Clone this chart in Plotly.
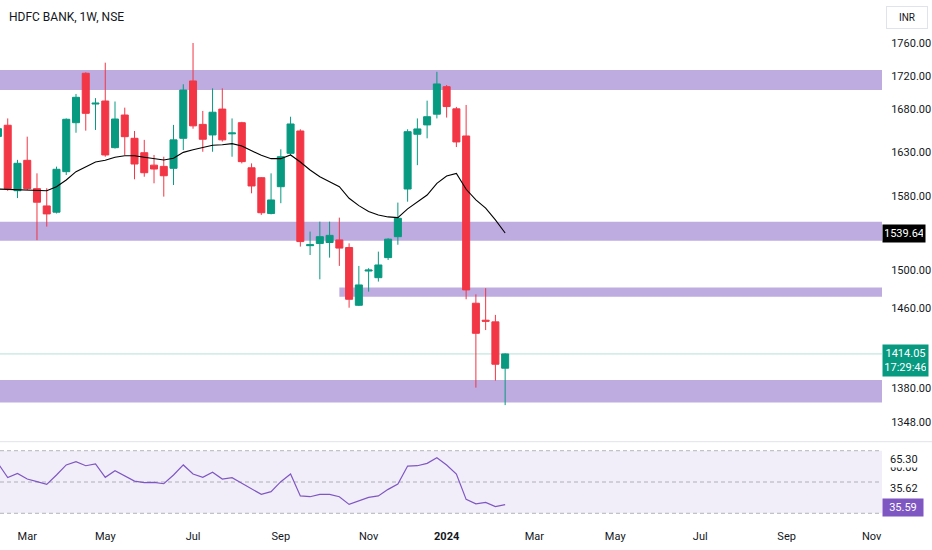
import math
import plotly.graph_objects as go

# weekly candles, HDFC BANK (NSE), Feb 2023 - Feb 2024 (first bar only partly visible)
dates = [
    "2023-02-13", "2023-02-20", "2023-02-27", "2023-03-06", "2023-03-13", "2023-03-20",
    "2023-03-27", "2023-04-03", "2023-04-10", "2023-04-17", "2023-04-24", "2023-05-01",
    "2023-05-08", "2023-05-15", "2023-05-22", "2023-05-29", "2023-06-05", "2023-06-12",
    "2023-06-19", "2023-06-26", "2023-07-03", "2023-07-10", "2023-07-17", "2023-07-24",
    "2023-07-31", "2023-08-07", "2023-08-14", "2023-08-21", "2023-08-28", "2023-09-04",
    "2023-09-11", "2023-09-18", "2023-09-25", "2023-10-02", "2023-10-09", "2023-10-16",
    "2023-10-23", "2023-10-30", "2023-11-06", "2023-11-13", "2023-11-20", "2023-11-27",
    "2023-12-04", "2023-12-11", "2023-12-18", "2023-12-25", "2024-01-01", "2024-01-08",
    "2024-01-15", "2024-01-22", "2024-01-29", "2024-02-05", "2024-02-12",
]

opens = [1648, 1661, 1586.2, 1620.5, 1588.5, 1569.3, 1562.4, 1607.6, 1664, 1722.9, 1686,
         1689.6, 1635, 1673, 1645.8, 1629.2, 1615, 1613.6, 1611.4, 1645.8, 1713.6, 1662,
         1649.7, 1680, 1651, 1664, 1612, 1600.8, 1561, 1590.7, 1628.5, 1654.3, 1526,
         1528.4, 1529.4, 1532.2, 1524, 1463.3, 1499, 1492, 1513.2, 1535.7, 1588.1, 1650.5,
         1661.4, 1674, 1706.7, 1680.3, 1648.5, 1465.4, 1448, 1446.3, 1399.9]
highs = [1664, 1669, 1621, 1647.7, 1605.7, 1589, 1613.3, 1669, 1698, 1724, 1693,
         1735.8, 1689, 1681.7, 1654.3, 1644, 1626.6, 1624.6, 1661.4, 1709.6, 1760, 1677.8,
         1704.7, 1704.7, 1669, 1665, 1617, 1601.5, 1605.7, 1633.1, 1671, 1656.3, 1541.2,
         1552, 1552, 1556.4, 1528.5, 1504.4, 1502, 1519.6, 1534, 1573, 1656.3, 1669,
         1690, 1724.6, 1708.7, 1682.6, 1684.9, 1474.6, 1481, 1453.4, 1414.7]
lows = [1640, 1586, 1578, 1587, 1532, 1546.6, 1561, 1603.8, 1652.3, 1654.7, 1655.5,
        1624.6, 1634, 1626.6, 1599, 1601.9, 1594.5, 1579.6, 1592.6, 1632.3, 1657, 1630.3,
        1630.3, 1642, 1624.6, 1617, 1583.3, 1559.4, 1560, 1572.3, 1626.6, 1525, 1516,
        1490.3, 1513.2, 1504.4, 1460.8, 1462.5, 1477.4, 1487.9, 1510.7, 1527, 1574, 1615,
        1645.8, 1669, 1670, 1635.7, 1469.5, 1380.9, 1438, 1387.7, 1364]
closes = [1657, 1588.5, 1617.1, 1588.5, 1573.4, 1560.5, 1610.3, 1668, 1694, 1675, 1687,
          1626.6, 1668.3, 1647.7, 1616.3, 1606.4, 1610.6, 1603, 1644, 1702.7, 1660.3, 1644.7,
          1676.3, 1644, 1652, 1619, 1591.5, 1561.8, 1575.9, 1624.6, 1662.5, 1530.4, 1527,
          1535.7, 1537.1, 1523.4, 1469.5, 1484.4, 1500, 1505.4, 1533, 1555.7, 1653.5, 1656.7,
          1671, 1710, 1683, 1641.6, 1479.2, 1434.7, 1447, 1403.8, 1414.05]

# moving average drawn on price pane
ma_values = [1588, 1587.8, 1587.2, 1587.2, 1587.0, 1586.2, 1590.7, 1598.2, 1607.6, 1613.3,
             1618.6, 1620.5, 1624, 1625.8, 1625.8, 1624, 1622.4, 1620.9, 1622.8, 1629.6,
             1632.6, 1635, 1637.7, 1638.4, 1639.6, 1636.9, 1631.5, 1626.2, 1622.4, 1622.4,
             1626.6, 1618.6, 1609.5, 1601.9, 1596.3, 1590.7, 1577.8, 1569.6, 1563.1, 1559.4,
             1557.2, 1556.4, 1566, 1574, 1581.4, 1594.5, 1602.7, 1605.7, 1587.8, 1575.9,
             1566.8, 1553.9, 1539.64]

# RSI pane
rsi_values = [62.0, 52.8, 55.5, 51.9, 50.2, 48.5, 54.5, 60.9, 63.0, 60.4, 61.5, 53.0, 57.2,
              54.0, 50.6, 49.6, 49.8, 48.9, 54.5, 60.9, 55.1, 53.0, 56.2, 51.9, 52.8, 49.2,
              45.5, 42.1, 43.8, 50.2, 55.1, 41.1, 40.6, 42.1, 42.1, 40.6, 35.7, 37.9, 40.2,
              41.1, 45.3, 48.7, 60.2, 60.4, 61.9, 65.5, 60.9, 55.1, 38.9, 36.0, 37.0, 34.3,
              35.59]
rsi_levels = [70, 50, 30]

# supply / demand zones: (start date, low price, high price)
zones = [
    ("2023-01-01", 1702.7, 1726.9),
    ("2023-01-01", 1531.3, 1552.0),
    ("2023-10-16", 1472.2, 1481.6),
    ("2023-01-01", 1366.6, 1388.4),
]

price_ticks = [1760, 1720, 1680, 1630, 1580, 1500, 1460, 1380, 1348]
month_ticks = ["2023-03-06", "2023-05-01", "2023-07-03", "2023-09-04", "2023-11-06",
               "2024-01-01", "2024-03-04", "2024-05-01", "2024-07-01", "2024-09-01",
               "2024-11-01"]
month_labels = ["Mar", "May", "Jul", "Sep", "Nov", "<b>2024</b>", "Mar", "May", "Jul",
                "Sep", "Nov"]

last_price = 1414.05
last_ma = 1539.64

GREEN = "#089981"
RED = "#F23645"
TEXT = "#131722"
PURPLE = "#7E57C2"

H_PLOT = 522.0  # pixel height of the plotting area
W_PLOT = 881.7


def py(pix):
    # pixel row (from top) to paper y
    return (H_PLOT - pix) / H_PLOT


fig = go.Figure()

fig.add_trace(go.Candlestick(
    x=dates, open=opens, high=highs, low=lows, close=closes,
    increasing=dict(line=dict(color=GREEN, width=1), fillcolor=GREEN),
    decreasing=dict(line=dict(color=RED, width=1), fillcolor=RED),
    whiskerwidth=0, yaxis="y", hoverinfo="skip",
))
fig.add_trace(go.Scatter(
    x=dates, y=ma_values, mode="lines", yaxis="y",
    line=dict(color="#000000", width=1.1), hoverinfo="skip",
))
fig.add_trace(go.Scatter(
    x=dates, y=rsi_values, mode="lines", yaxis="y2",
    line=dict(color=PURPLE, width=1.2), hoverinfo="skip",
))

shapes = []
for start, lo, hi in zones:
    shapes.append(dict(type="rect", xref="x", yref="y", x0=start, x1="2025-01-01",
                       y0=lo, y1=hi, fillcolor="rgba(126,87,194,0.5)",
                       line=dict(width=0), layer="below"))
shapes.append(dict(type="line", xref="paper", yref="y", x0=0, x1=1,
                   y0=last_price, y1=last_price,
                   line=dict(color="rgba(8,153,129,0.3)", width=1), layer="below"))
shapes.append(dict(type="rect", xref="paper", yref="y2", x0=0, x1=1,
                   y0=rsi_levels[2], y1=rsi_levels[0],
                   fillcolor="rgba(126,87,194,0.1)", line=dict(width=0), layer="below"))
for lvl in rsi_levels:
    shapes.append(dict(type="line", xref="paper", yref="y2", x0=0, x1=1, y0=lvl, y1=lvl,
                       line=dict(color="rgba(120,123,134,0.55)", width=1, dash="4px,3px"),
                       layer="below"))
shapes.append(dict(type="line", xref="paper", yref="paper", x0=0, x1=932 / W_PLOT,
                   y0=py(441.7), y1=py(441.7), line=dict(color="#E0E3EB", width=1)))

base_font = dict(family="Roboto, Noto Sans, sans-serif", size=11, color=TEXT)

annotations = [
    dict(text="HDFC BANK, 1W, NSE", xref="paper", yref="paper", x=7 / W_PLOT, y=py(17),
         xanchor="left", yanchor="middle", showarrow=False,
         font=dict(family="Roboto, sans-serif", size=12, color=TEXT)),
    dict(text="INR", xref="paper", yref="paper", x=907 / W_PLOT, y=py(17),
         xanchor="center", yanchor="middle", showarrow=False, font=dict(base_font, size=10),
         bordercolor="#E0E3EB", borderwidth=1, borderpad=5, bgcolor="#FFFFFF", width=30),
    dict(text=f"{last_ma:.2f}", xref="paper", yref="y", x=1, y=math.log10(last_ma),
         xanchor="left", yanchor="middle", showarrow=False, bgcolor="#000000",
         font=dict(base_font, color="#FFFFFF"), borderpad=2, width=38),
    dict(text=f"{last_price:.2f}<br>17:29:46", xref="paper", yref="y", x=1,
         y=math.log10(last_price), xanchor="left", yanchor="top", yshift=10,
         showarrow=False, bgcolor=GREEN, font=dict(base_font, color="#FFFFFF"),
         borderpad=2, width=41, align="center"),
    dict(text="60.00", xref="paper", yref="paper", x=1, y=py(467), xanchor="left",
         yanchor="middle", xshift=6, showarrow=False, font=base_font),
    dict(text="65.30", xref="paper", yref="paper", x=1, y=py(459), xanchor="left",
         yanchor="middle", xshift=6, showarrow=False, font=base_font, bgcolor="#FFFFFF"),
    dict(text="35.62", xref="paper", yref="paper", x=1, y=py(488), xanchor="left",
         yanchor="middle", xshift=6, showarrow=False, font=base_font),
    dict(text=f"{rsi_values[-1]:.2f}", xref="paper", yref="paper", x=1, y=py(507.5),
         xanchor="left", yanchor="middle", showarrow=False, bgcolor=PURPLE,
         font=dict(base_font, color="#FFFFFF"), borderpad=2, width=36),
]

fig.update_layout(
    width=932, height=550,
    margin=dict(l=0, r=932 - W_PLOT, t=0, b=550 - H_PLOT, autoexpand=False),
    paper_bgcolor="#FFFFFF", plot_bgcolor="#FFFFFF",
    showlegend=False, hovermode=False,
    boxgap=0.28, boxgroupgap=0,
    font=base_font,
    xaxis=dict(type="date", range=["2023-02-14 11:00", "2024-11-08 11:00"],
               anchor="y2", rangeslider=dict(visible=False), showgrid=False,
               zeroline=False, showline=False, tickmode="array", tickvals=month_ticks,
               ticktext=month_labels, ticks="outside", ticklen=4, tickcolor="#FFFFFF",
               tickfont=dict(base_font, size=11)),
    yaxis=dict(type="log", domain=[py(440), 1],
               range=[math.log10(1330.9), math.log10(1814.1)], side="right",
               showgrid=False, zeroline=False, showline=False, tickmode="array",
               tickvals=price_ticks, ticktext=[f"{v:.2f}" for v in price_ticks],
               ticks="outside", ticklen=3, tickcolor="#FFFFFF", ticklabelstandoff=3,
               tickfont=base_font),
    yaxis2=dict(domain=[0, py(442)], range=[24.44, 75.56], side="right",
                showgrid=False, zeroline=False, showline=False, showticklabels=False),
    shapes=shapes,
    annotations=annotations,
)

# the page gets an 8px body margin by default; drop it so the figure sits at 0,0
fig.write_html("out.html", config={"displayModeBar": False},
               post_script="document.body.style.margin='0px';")
